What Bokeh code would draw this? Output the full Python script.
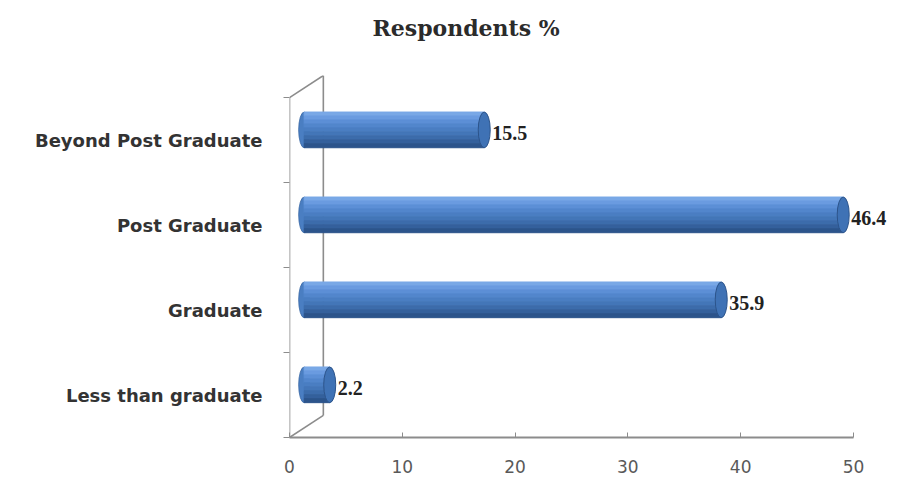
from bokeh.plotting import figure
from bokeh.models import (ColumnDataSource, Range1d, FixedTicker, LabelSet, Title)
from bokeh.embed import file_html
from bokeh.resources import INLINE

# ---- data ----
categories = ["Less than graduate", "Graduate", "Post Graduate", "Beyond Post Graduate"]
values = [2.2, 35.9, 46.4, 15.5]
x_ticks = [0, 10, 20, 30, 40, 50]
title_text = "Respondents %"

ypos = list(range(len(categories)))
labels = [f"{v:.1f}" for v in values]

# ---- style constants ----
DEPTH_X = 3.0          # 3D wall depth in axis units
DEPTH_Y = 0.26
BAR_H = 0.42
X_END = 54.26          # frame extends to the window edge so labels are not clipped
STRIPES = ["#79a8e6", "#6a9be0", "#5c8fd6", "#5286cc", "#4a7ec2",
           "#4376b8", "#3c6cab", "#34609c", "#2c548b"]

p = figure(width=901, height=484, output_backend="svg", toolbar_location=None,
           x_range=Range1d(0, X_END), y_range=Range1d(-0.5, 3.5 + DEPTH_Y),
           min_border_left=289, min_border_right=0, min_border_top=75,
           min_border_bottom=47, title=title_text)
p.extra_x_ranges = {"bars": Range1d(-1.3 / 1.03, (X_END - 1.3) / 1.03)}
p.extra_y_ranges = {"bars": Range1d(-0.5 - 0.12, 3.5 + DEPTH_Y - 0.12)}

p.outline_line_color = None
p.background_fill_color = "white"
p.border_fill_color = "white"
p.xgrid.visible = False
p.ygrid.visible = False

# spacer between title and plot area
p.add_layout(Title(text=" ", text_font_size="10px", standoff=22), "above")

# title
p.title.text_font = "DejaVu Serif"
p.title.text_font_style = "bold"
p.title.text_font_size = "22px"
p.title.text_color = "#2b2b2b"
p.title.align = "left"
p.title.offset = 83
p.title.standoff = 0

# x axis
xa = p.xaxis[0]
xa.ticker = FixedTicker(ticks=x_ticks)
xa.bounds = (x_ticks[0], x_ticks[-1])
xa.axis_line_color = "#8c8c8c"
xa.axis_line_width = 2
xa.major_tick_in = 5
xa.major_tick_out = 0
xa.major_tick_line_color = "#8c8c8c"
xa.minor_tick_line_color = None
xa.major_label_text_font = "DejaVu Sans"
xa.major_label_text_font_size = "17px"
xa.major_label_text_color = "#595959"
xa.major_label_standoff = 22

# y axis
ya = p.yaxis[0]
ya.ticker = FixedTicker(ticks=ypos, minor_ticks=[y - 0.5 for y in ypos] + [ypos[-1] + 0.5])
ya.major_label_overrides = {y: c for y, c in zip(ypos, categories)}
ya.axis_line_color = None
ya.major_tick_line_color = None
ya.minor_tick_line_color = "#8c8c8c"
ya.minor_tick_out = 6
ya.minor_tick_in = 0
ya.major_label_text_font = "DejaVu Sans"
ya.major_label_text_font_style = "bold"
ya.major_label_text_font_size = "18px"
ya.major_label_text_color = "#333333"
ya.major_label_standoff = 21

# 3D wall frame
y0, y1 = -0.5, ypos[-1] + 0.5
wall_x = [[0, 0], [0, DEPTH_X], [DEPTH_X, DEPTH_X], [0, DEPTH_X]]
wall_y = [[y0, y1], [y1, y1 + DEPTH_Y], [y1 + DEPTH_Y, y0 + DEPTH_Y], [y0, y0 + DEPTH_Y]]
p.multi_line(wall_x, wall_y, line_color="#8c8c8c", line_width=1.6)

# cylinder bars
src = ColumnDataSource(dict(y=ypos, v=values, zero=[0] * len(values), lab=labels))
p.ellipse(x="zero", y="y", width=11, height=BAR_H, width_units="screen",
          fill_color="#4a7ec2", line_color="#3a68a5", line_width=0.8,
          source=src, x_range_name="bars", y_range_name="bars")
n = len(STRIPES)
sh = BAR_H / n
for i, col in enumerate(STRIPES):
    off = BAR_H / 2 - sh * (i + 0.5)
    s = ColumnDataSource(dict(y=[y + off for y in ypos], v=values, zero=[0] * len(values)))
    p.hbar(y="y", left="zero", right="v", height=sh, fill_color=col,
           line_color=col, line_width=1, source=s,
           x_range_name="bars", y_range_name="bars")
p.ellipse(x="v", y="y", width=12, height=BAR_H, width_units="screen",
          fill_color="#3f72b5", line_color="#2c548b", line_width=1,
          source=src, x_range_name="bars", y_range_name="bars")

labs = LabelSet(x="v", y="y", text="lab", source=src, x_range_name="bars",
                y_range_name="bars", x_offset=8, y_offset=-3, text_baseline="middle",
                text_font="DejaVu Serif", text_font_style="bold",
                text_font_size="20px", text_color="#222222")
p.add_layout(labs)

open("out.html", "w").write(file_html(p, INLINE))
